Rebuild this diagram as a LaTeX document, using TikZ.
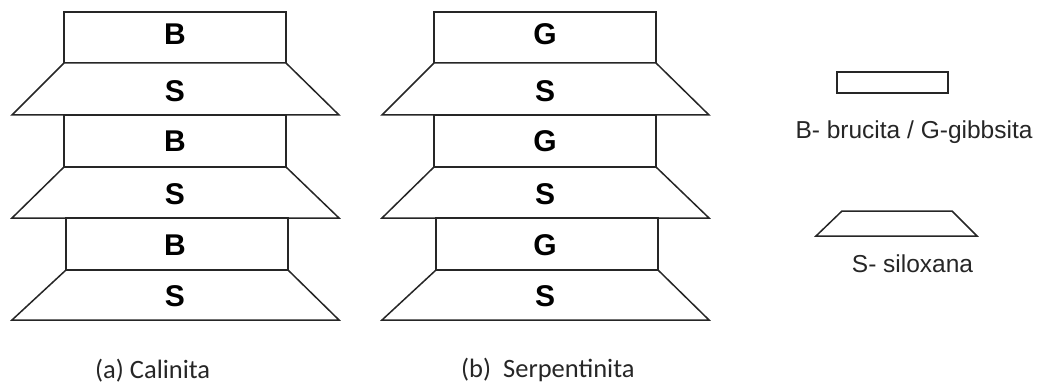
\documentclass[tikz,border=0pt]{standalone}
\usepackage{fontspec}
\setmainfont{Liberation Sans}
\newfontfamily\capfont{Carlito}
\tikzset{
  layer/.style={draw=black!85, line width=1.5pt, line join=miter, fill=white},
  letter/.style={font=\bfseries\fontsize{30}{30}\selectfont, text=black, inner sep=0pt},
  caption/.style={font=\capfont\fontsize{26.5}{26.5}\selectfont, text=black!85, inner sep=0pt},
  legend/.style={font=\fontsize{24.5}{24.5}\selectfont, text=black!85, inner sep=0pt},
}
\begin{document}
\begin{tikzpicture}[x=1pt,y=-1pt]
  \useasboundingbox (0,0) rectangle (1043,385);
  % two layered stacks: octahedral sheet (rectangle) over tetrahedral sheet (trapezoid)
  \foreach \ox/\oct/\col in {0/B/a, 370/G/b}{
    \foreach \k/\yt/\ym/\yb/\dx/\yo/\ys in {1/12/63/115/0/34/91, 2/115/167/218/0/141/194, 3/218/270/320/2/245/296}{
      \draw[layer] (\ox+64+\dx,\yt) rectangle (\ox+286+\dx,\ym);
      \draw[layer] (\ox+64+\dx,\ym) -- (\ox+286+\dx,\ym) -- (\ox+339,\yb) -- (\ox+12,\yb) -- cycle;
      \node[letter] (\col oct\k) at (\ox+175,\yo) {\oct};
      \node[letter] (\col tet\k) at (\ox+175,\ys) {S};
    }
  }
  \node[caption, anchor=base west] (capa) at (95,378) {(a) Calinita};
  \node[caption, anchor=base west] (capb) at (461,377) {(b)~ Serpentinita};
  % legend
  \draw[layer] (837,72) rectangle (948,93);
  \node[legend, anchor=base] (legB) at (914,138) {B- brucita / G-gibbsita};
  \draw[layer] (842,211) -- (952,211) -- (977,236) -- (816,236) -- cycle;
  \node[legend, anchor=base] (legS) at (912.5,272) {S- siloxana};
\end{tikzpicture}
\end{document}
